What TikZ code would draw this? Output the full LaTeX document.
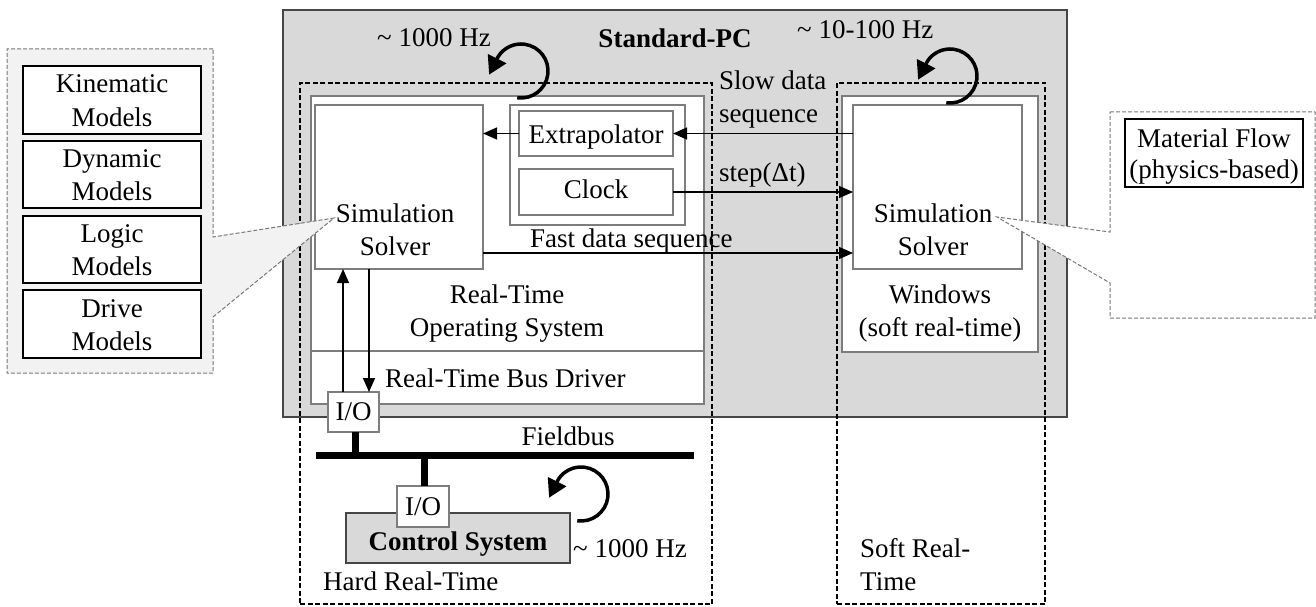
\documentclass[tikz,border=0pt]{standalone}
\usepackage{fontspec}
\setmainfont{Liberation Serif}
\usetikzlibrary{arrows.meta}
\definecolor{pcgray}{RGB}{217,217,217}
\definecolor{boxline}{RGB}{125,125,125}
\definecolor{pcline}{RGB}{70,70,70}
\definecolor{calfill}{RGB}{242,242,242}
\definecolor{calline}{RGB}{120,120,120}
\begin{document}
\begin{tikzpicture}[x=1pt,y=-1pt,
  font=\fontsize{27}{33}\selectfont,
  gbox/.style={draw=boxline, line width=1.3pt, fill=white, inner sep=0pt, outer sep=0pt},
  mbox/.style={draw=black, line width=1.4pt, fill=white, inner sep=0pt, outer sep=0pt},
  zone/.style={draw=black, line width=2.2pt, dash pattern=on 5pt off 2.5pt},
  arr/.style={-{Triangle[length=14pt,width=12pt]}, line width=1.3pt},
  looparrow/.style={line width=3.5pt, -{Triangle[length=18pt,width=20pt]}},
  callout/.style={draw=calline, line width=1pt, dash pattern=on 4pt off 2pt},
  txt/.style={inner sep=0pt, anchor=base},
  ltxt/.style={inner sep=0pt, anchor=base west, align=left},
  bus/.style={line width=7pt}
]
\useasboundingbox (0,0) rectangle (1316,607);

% Standard-PC
\node[draw=pcline, line width=1.4pt, fill=pcgray, inner sep=0pt, outer sep=0pt,
      minimum width=784pt, minimum height=407pt] (pc) at (675,213.5) {};
\node[txt, font=\fontsize{27}{33}\selectfont\bfseries] (pclabel) at (675,48) {Standard-PC};

% zones
\node[zone, inner sep=0pt, outer sep=0pt, minimum width=412pt, minimum height=521pt] (hard) at (506,343.5) {};
\node[zone, inner sep=0pt, outer sep=0pt, minimum width=208pt, minimum height=521pt] (soft) at (941,343.5) {};

% RTOS
\node[gbox, minimum width=393pt, minimum height=308pt] (rtos) at (507.5,250) {};
\draw[draw=boxline, line width=1.3pt] (rtos.west |- 0,351) coordinate (dl) -- (rtos.east |- 0,351) coordinate (dr);
\node[gbox, minimum width=168pt, minimum height=164pt] (lsim) at (399,187) {};
\node[gbox, minimum width=175pt, minimum height=120pt] (cont) at (597.5,165) {};
\node[gbox, minimum width=154pt, minimum height=45pt] (extra) at (596,133.5) {};
\node[gbox, minimum width=154pt, minimum height=46pt] (clock) at (596,192) {};
\node[txt] (extratxt) at (596,143) {Extrapolator};
\node[txt] (clocktxt) at (596,198) {Clock};
\node[txt, align=center] (lsimtxt) at (395,255) {Simulation\\Solver};
\node[txt, align=center] (rtostxt) at (507,336) {Real-Time\\Operating System};
\node[ltxt] (bustxt) at (385,387) {Real-Time Bus Driver};

% Windows
\node[gbox, minimum width=196pt, minimum height=256pt] (win) at (940,224) {};
\node[gbox, minimum width=169pt, minimum height=164pt] (rsim) at (937.5,187) {};
\node[txt, align=center] (rsimtxt) at (933,255) {Simulation\\Solver};
\node[txt, align=center] (wintxt) at (940,336) {Windows\\(soft real-time)};

% labels between
\node[ltxt] (slowtxt) at (719,123) {Slow data\\sequence};
\node[ltxt] (steptxt) at (719,181) {step(Δt)};
\node[ltxt] (fasttxt) at (530,247) {Fast data sequence};

% data arrows
\draw[arr] (extra.west) -- (lsim.east |- extra.west);
\draw[arr] (rsim.west |- extra.east) -- (extra.east);
\draw[arr] (clock.east) -- (rsim.west |- clock.east);
\draw[arr] (lsim.east |- 0,253) -- (rsim.west |- 0,253);

% I/O and fieldbus
\node[gbox, minimum width=51pt, minimum height=40pt] (io1) at (353.5,412) {I/O};
\draw[arr] (io1.north -| 343,0) -- (lsim.south -| 343,0);
\draw[arr] (lsim.south -| 369,0) -- (io1.north -| 369,0);
\coordinate (busl) at (316,455);
\coordinate (busr) at (694,455);
\draw[bus] (busl) -- (busr);
\node[txt] (fbtxt) at (568,445) {Fieldbus};
\draw[bus] (io1.south -| 355,0) -- (355,455);
\node[draw=pcline, line width=1.3pt, fill=pcgray, inner sep=0pt, outer sep=0pt,
      minimum width=224pt, minimum height=50pt] (ctrl) at (458,538) {};
\node[txt, font=\fontsize{27}{33}\selectfont\bfseries] (ctrltxt) at (458,550) {Control System};
\node[gbox, minimum width=52pt, minimum height=41pt] (io2) at (423,506.5) {I/O};
\draw[bus] (424,455) -- (io2.north -| 424,0);

\node[ltxt] (hz3) at (573,557) {\textasciitilde{} 1000 Hz};
\node[ltxt] (hardtxt) at (323,590) {Hard Real-Time};
\node[ltxt] (softtxt) at (860,590) {Soft Real-\\Time};
\node[ltxt] (hz1) at (377,47) {\textasciitilde{} 1000 Hz};
\node[ltxt] (hz2) at (797,39) {\textasciitilde{} 10-100 Hz};

% loops
\coordinate (c1) at (521,71);
\coordinate (c2) at (950,76);
\coordinate (c3) at (581,494);
\draw[looparrow] ([shift={(98:27)}]c1) arc[start angle=98, end angle=-148, radius=27] -- ++(-9,18);
\draw[looparrow] ([shift={(98:27)}]c2) arc[start angle=98, end angle=-148, radius=27] -- ++(-9,18);
\draw[looparrow] ([shift={(98:27)}]c3) arc[start angle=98, end angle=-148, radius=27] -- ++(-9,18);

% left callout
\coordinate (ltip) at (334,218);
\draw[callout, fill=calfill] (213,49) -- (7,49) -- (7,373) -- (213,373) -- (213,317) -- (ltip) -- (213,237) -- cycle;
\node[mbox, minimum width=178pt, minimum height=68pt] (kin) at (112,100) {};
\node[mbox, minimum width=178pt, minimum height=67pt] (dyn) at (112,174.5) {};
\node[mbox, minimum width=178pt, minimum height=67pt] (log) at (112,249.5) {};
\node[mbox, minimum width=178pt, minimum height=68pt] (drv) at (112,324) {};
\node[txt, align=center] (kintxt) at (112,126) {Kinematic\\Models};
\node[txt, align=center] (dyntxt) at (112,200) {Dynamic\\Models};
\node[txt, align=center] (logtxt) at (112,275) {Logic\\Models};
\node[txt, align=center] (drvtxt) at (112,350) {Drive\\Models};

% right callout
\coordinate (rtip) at (997,217);
\draw[callout, fill=white] (1110,112) -- (1315,112) -- (1315,318) -- (1110,318) -- (1110,283) -- (rtip) -- (1110,232) -- cycle;
\node[mbox, minimum width=178pt, minimum height=68pt] (mat) at (1214,153) {};
\node[txt, align=center, font=\fontsize{27}{31}\selectfont] (mattxt) at (1214,178) {Material Flow\\(physics-based)};
\end{tikzpicture}
\end{document}
